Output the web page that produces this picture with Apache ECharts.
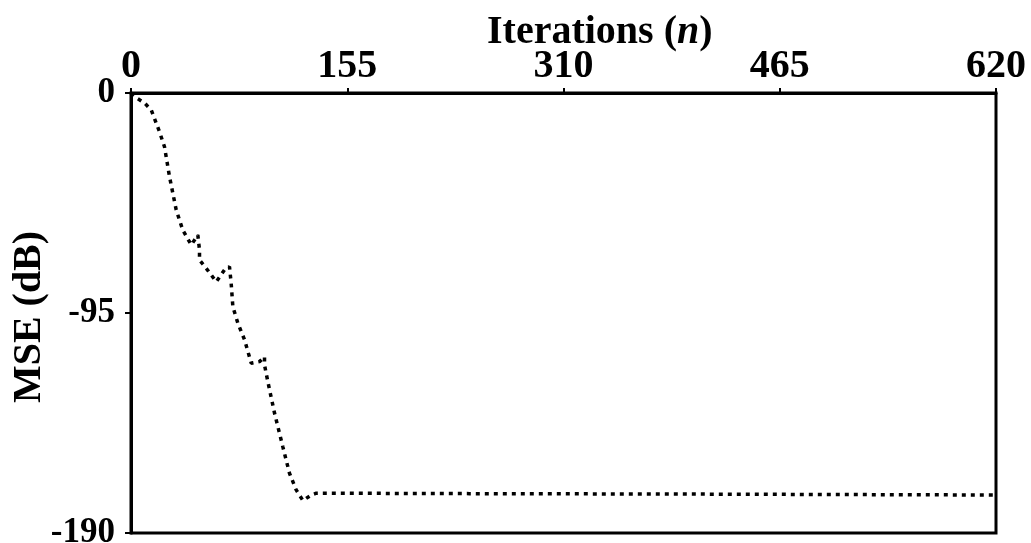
<!DOCTYPE html>
<html>
<head>
<meta charset="utf-8">
<script src="https://cdn.jsdelivr.net/npm/echarts@6/dist/echarts.min.js"></script>
<style>
html,body{margin:0;padding:0;background:#fff;}
#chart{width:1031px;height:543px;}
</style>
</head>
<body>
<div id="chart"></div>
<script>
// Data
var iterations = [0, 4.4, 9.7, 14.5, 20.4, 24.0, 27.6, 32.4, 37.1, 43.2, 47.9, 49.1, 49.1, 53.9, 61.1, 67.0, 70.6, 71.8, 73.0, 76.6, 81.4, 86.2, 92.1, 95.7, 95.7, 98.1, 102.9, 108.8, 113.6, 118.4, 123.2, 129.2, 132.8, 242.7, 407.5, 620];
var mse = [0, -2.3, -4.3, -7.3, -16.7, -23.2, -36.1, -50.5, -59.2, -65.6, -61.3, -67.8, -72.1, -75.7, -81.5, -76.4, -75.0, -82.2, -92.3, -99.4, -106.6, -116.7, -116.0, -113.9, -117.4, -124.7, -138.3, -152.7, -164.2, -171.4, -176.0, -173.6, -172.8, -173.0, -173.2, -173.6];
var xTicks = [0, 155, 310, 465, 620];
var yTicks = [0, -95, -190];
var xTitle = 'Iterations (';
var xTitleItalic = 'n';
var yTitle = 'MSE (dB)';

var seriesData = iterations.map(function (x, i) { return [x, mse[i]]; });
var FONT = '"Liberation Serif", "Times New Roman", serif';

var chart = echarts.init(document.getElementById('chart'), null, {renderer: 'canvas'});
chart.setOption({
  backgroundColor: '#fff',
  animation: false,
  title: {
    text: '{a|' + xTitle + '}{b|' + xTitleItalic + '}{a|)}',
    left: 482,
    top: 8,
    textStyle: {
      rich: {
        a: {fontFamily: FONT, fontWeight: 'bold', fontSize: 40, color: '#000'},
        b: {fontFamily: FONT, fontWeight: 'bold', fontStyle: 'italic', fontSize: 40, color: '#000'}
      }
    }
  },
  grid: {
    left: 131, top: 93, right: 35, bottom: 10,
    outerBoundsMode: 'none',
    containLabel: false,
    show: true, borderColor: '#000', borderWidth: 3, backgroundColor: 'transparent'
  },
  xAxis: {
    type: 'value',
    position: 'top',
    min: xTicks[0], max: xTicks[xTicks.length - 1], interval: xTicks[1] - xTicks[0],
    axisLine: {show: true, lineStyle: {color: '#000', width: 3}},
    axisTick: {show: true, inside: false, length: 5, lineStyle: {color: '#000', width: 2}},
    splitLine: {show: false},
    axisLabel: {
      fontFamily: FONT, fontWeight: 'bold', fontSize: 40, color: '#000', margin: 6,
      formatter: function (v) { return String(v); }
    }
  },
  yAxis: {
    type: 'value',
    min: yTicks[yTicks.length - 1], max: yTicks[0], interval: yTicks[0] - yTicks[1],
    name: yTitle,
    nameLocation: 'middle',
    nameRotate: 90,
    nameGap: 81,
    nameMoveOverlap: false,
    nameTextStyle: {fontFamily: FONT, fontWeight: 'bold', fontSize: 40, color: '#000', padding: [0, 8, 0, 0]},
    axisLine: {show: true, lineStyle: {color: '#000', width: 3}},
    axisTick: {show: true, inside: false, length: 6, lineStyle: {color: '#000', width: 2}},
    splitLine: {show: false},
    axisLabel: {
      fontFamily: FONT, fontWeight: 'bold', fontSize: 35, color: '#000', margin: 16
    }
  },
  series: [{
    type: 'line',
    data: seriesData,
    showSymbol: false,
    smooth: false,
    lineStyle: {color: '#000', width: 3.5, type: [4, 5], cap: 'butt'}
  }]
});
</script>
</body>
</html>
